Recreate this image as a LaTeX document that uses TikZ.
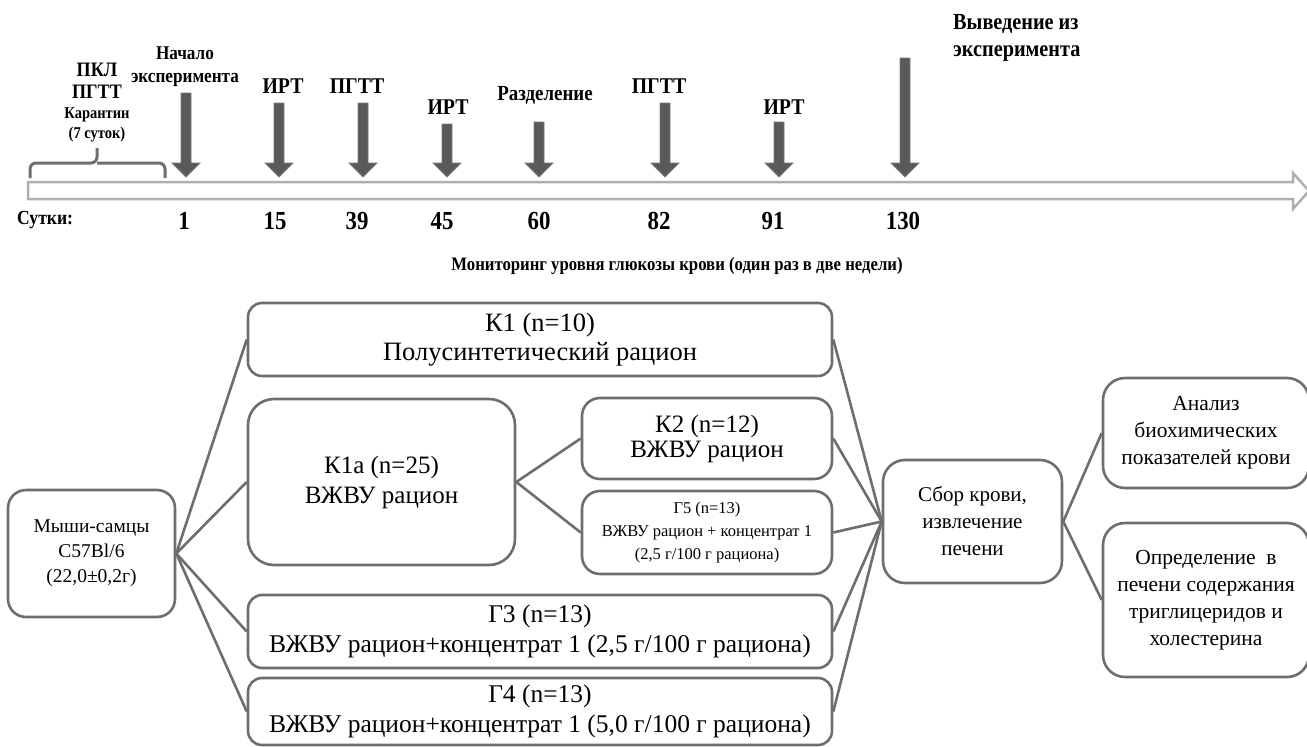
\documentclass[tikz,border=0pt]{standalone}
\usepackage{fontspec}
\setmainfont{Liberation Serif}
\newfontfamily\condb{Liberation Serif}[FakeStretch=0.88]
\definecolor{boxgray}{RGB}{110,110,110}
\definecolor{arrdark}{RGB}{89,89,89}
\definecolor{barline}{RGB}{175,175,175}
\begin{document}
\begin{tikzpicture}[x=1pt,y=-1pt,
  lbl/.style={inner sep=0, align=center},
  box/.style={draw=boxgray, line width=2.6, rounded corners=18, fill=white, align=center, inner sep=2},
  conn/.style={draw=boxgray, line width=2.6},
  darr/.style={fill=arrdark, draw=arrdark!80!white, line width=0.8}]
\useasboundingbox[fill=white] (0,0) rectangle (1307,747);

% timeline bar
\draw[line width=2.5, draw=barline, fill=white] (28,182) -- (1293,182) -- (1293,173) -- (1309,191) -- (1293,209) -- (1293,199) -- (28,199) -- cycle;

% down arrows
\foreach \x/\t in {186/93, 279/103, 363/103, 447/124, 539/122, 665/103, 779/122, 905/58}
  \filldraw[darr] (\x-5,\t) -- (\x+5,\t) -- (\x+5,163) -- (\x+14,163) -- (\x,177) -- (\x-14,163) -- (\x-5,163) -- cycle;

% brace
\draw[draw=boxgray, line width=3, rounded corners=6] (30,178) -- (30,163) -- (97,163) -- (97,148);
\draw[draw=boxgray, line width=3, rounded corners=6] (165,178) -- (165,163) -- (97,163);

% top labels
\node[lbl, font=\condb\bfseries\fontsize{20.5}{24}\selectfont] (pkl) at (97,70) {ПКЛ};
\node[lbl, font=\condb\bfseries\fontsize{20.5}{24}\selectfont] (pgtt0) at (97,92) {ПГТТ};
\node[lbl, font=\condb\bfseries\fontsize{16.5}{21}\selectfont] (kar) at (97,115) {Карантин};
\node[lbl, font=\condb\bfseries\fontsize{16.5}{21}\selectfont] (sut7) at (97,135) {(7 суток)};
\node[lbl, font=\condb\bfseries\fontsize{19.5}{23}\selectfont] (start) at (185,67) {Начало\\эксперимента};
\node[lbl, font=\condb\bfseries\fontsize{22.5}{26}\selectfont] (irt1) at (283,86) {ИРТ};
\node[lbl, font=\condb\bfseries\fontsize{22.5}{26}\selectfont] (pgtt1) at (357,86) {ПГТТ};
\node[lbl, font=\condb\bfseries\fontsize{22.5}{26}\selectfont] (irt2) at (448,107) {ИРТ};
\node[lbl, font=\condb\bfseries\fontsize{21.5}{26}\selectfont] (split) at (545,95) {Разделение};
\node[lbl, font=\condb\bfseries\fontsize{22.5}{26}\selectfont] (pgtt2) at (659,86) {ПГТТ};
\node[lbl, font=\condb\bfseries\fontsize{22.5}{26}\selectfont] (irt3) at (784,107) {ИРТ};
\node[lbl, font=\condb\bfseries\fontsize{23}{27}\selectfont, align=left, anchor=north west] (end) at (953,14) {Выведение из\\эксперимента};

% day numbers
\node[lbl, font=\condb\bfseries\fontsize{20}{24}\selectfont, anchor=west] (sutki) at (17,220) {Сутки:};
\foreach \x/\n in {184/1, 275/15, 357/39, 442/45, 539/60, 659/82, 773/91, 903/130}
  \node[lbl, font=\condb\bfseries\fontsize{26}{28}\selectfont] (d\n) at (\x,221) {\n};
\node[lbl, font=\condb\bfseries\fontsize{19}{23}\selectfont] (mon) at (677,266) {Мониторинг уровня глюкозы крови (один раз в две недели)};

% boxes
\node[box, minimum width=167, minimum height=127, font=\fontsize{19.5}{25}\selectfont] (mice) at (91.5,553.5) {Мыши-самцы\\C57Bl/6\\(22,0±0,2г)};
\node[box, rounded corners=14, minimum width=584, minimum height=73, font=\fontsize{26.5}{29}\selectfont] (k1) at (540,339.5) {К1 (n=10)\\Полусинтетический рацион};
\node[box, rounded corners=26, minimum width=267, minimum height=166, font=\fontsize{25}{30}\selectfont] (k1a) at (381.5,482) {К1а (n=25)\\ВЖВУ рацион};
\node[box, minimum width=250, minimum height=81, font=\fontsize{25}{25}\selectfont] (k2) at (707,438.5) {К2 (n=12)\\ВЖВУ рацион};
\node[box, minimum width=250, minimum height=83, font=\fontsize{16.5}{23}\selectfont] (g5) at (707,532.5) {Г5 (n=13)\\ВЖВУ рацион + концентрат 1\\(2,5 г/100 г рациона)};
\node[box, rounded corners=14, minimum width=584, minimum height=73, font=\fontsize{25.5}{30}\selectfont] (g3) at (540,631.5) {Г3 (n=13)\\ВЖВУ рацион+концентрат 1 (2,5 г/100 г рациона)};
\node[box, rounded corners=14, minimum width=584, minimum height=67, font=\fontsize{25.5}{30}\selectfont] (g4) at (540,711.5) {Г4 (n=13)\\ВЖВУ рацион+концентрат 1 (5,0 г/100 г рациона)};
\node[box, rounded corners=22, minimum width=179, minimum height=123, font=\fontsize{21}{27}\selectfont] (blood) at (972.5,521.5) {Сбор крови,\\извлечение\\печени};
\node[box, rounded corners=22, minimum width=206, minimum height=110, font=\fontsize{21.5}{27}\selectfont] (anal) at (1206,433) {Анализ\\биохимических\\показателей крови};
\node[box, rounded corners=22, minimum width=206, minimum height=154, font=\fontsize{21.5}{27}\selectfont] (opr) at (1206,600) {Определение~~в\\печени содержания\\триглицеридов и\\холестерина};

% connectors
\draw[conn] (mice.east) -- (k1.west);
\draw[conn] (mice.east) -- (k1a.west);
\draw[conn] (mice.east) -- (g3.west);
\draw[conn] (mice.east) -- (g4.west);
\draw[conn] (k1a.east) -- (k2.west);
\draw[conn] (k1a.east) -- (g5.west);
\draw[conn] (k1.east) -- (blood.west);
\draw[conn] (k2.east) -- (blood.west);
\draw[conn] (g5.east) -- (blood.west);
\draw[conn] (g3.east) -- (blood.west);
\draw[conn] (g4.east) -- (blood.west);
\draw[conn] (blood.east) -- (anal.west);
\draw[conn] (blood.east) -- (opr.west);
\end{tikzpicture}
\end{document}
